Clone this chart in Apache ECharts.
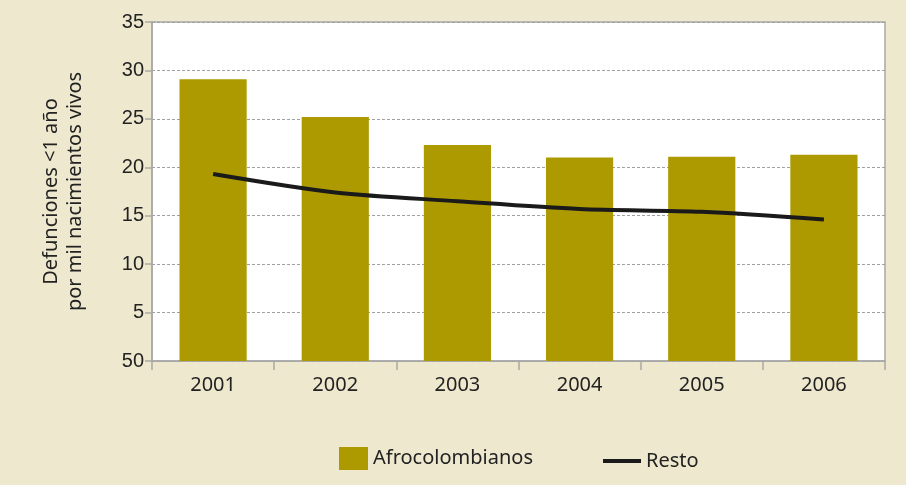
<!DOCTYPE html>
<html>
<head>
<meta charset="utf-8">
<script src="https://cdn.jsdelivr.net/npm/echarts@6/dist/echarts.min.js"></script>
<style>
  html, body { margin: 0; padding: 0; background: #EEE9CE; }
  #chart { width: 906px; height: 485px; }
</style>
</head>
<body>
<div id="chart"></div>
<script>
// años
var years = ['2001', '2002', '2003', '2004', '2005', '2006']
// tasa afrocolombianos (barras)
var afro = [29.1, 25.2, 22.3, 21.0, 21.1, 21.3]
// tasa resto (linea)
var resto = [19.3, 17.4, 16.5, 15.7, 15.4, 14.6]
// etiquetas eje y, tal como aparecen
var yTickLabels = ['50', '5', '10', '15', '20', '25', '30', '35']

var chartDom = document.getElementById('chart')
var myChart = echarts.init(chartDom)
var font = 'Noto Sans'
var option = {
  backgroundColor: '#EEE9CE',
  textStyle: { fontFamily: font },
  grid: {
    left: 152,
    right: 21,
    top: 22,
    bottom: 124,
    show: true,
    backgroundColor: '#ffffff',
    borderColor: '#a8a8a8',
    borderWidth: 1.5
  },
  legend: [
    {
      data: [{ name: 'Afrocolombianos', icon: 'rect' }],
      left: 339,
      top: 447,
      padding: 0,
      itemWidth: 29,
      itemHeight: 23,
      itemGap: 8,
      textStyle: { fontSize: 20, color: '#222', fontFamily: font, padding: [4, 0, 0, 0] }
    },
    {
      data: [{ name: 'Resto', icon: 'rect' }],
      left: 603,
      top: 451,
      padding: 0,
      itemWidth: 38,
      itemHeight: 4,
      textStyle: { fontSize: 20, color: '#222', fontFamily: font }
    }
  ],
  xAxis: {
    type: 'category',
    data: years,
    boundaryGap: true,
    axisLine: { lineStyle: { color: '#a8a8a8', width: 1.5 } },
    axisTick: { show: true, length: 9, lineStyle: { color: '#a8a8a8', width: 1.5 } },
    axisLabel: { fontSize: 20, color: '#222', margin: 14 }
  },
  yAxis: {
    type: 'value',
    min: 0,
    max: 35,
    interval: 5,
    name: 'Defunciones <1 año\npor mil nacimientos vivos',
    nameLocation: 'middle',
    nameGap: 65,
    nameRotate: 90,
    nameTextStyle: { fontSize: 20, color: '#222', lineHeight: 24 },
    axisLine: { show: true, lineStyle: { color: '#a8a8a8', width: 1.5 } },
    axisTick: { show: true, length: 7, lineStyle: { color: '#a8a8a8', width: 1.5 } },
    axisLabel: {
      fontSize: 20,
      color: '#222',
      margin: 8,
      fontFamily: 'Liberation Sans',
      formatter: function (v) { return yTickLabels[Math.round(v / 5)] }
    },
    splitLine: { lineStyle: { color: '#a0a0a0', type: [3, 2], width: 1 } }
  },
  series: [
    {
      name: 'Afrocolombianos',
      type: 'bar',
      data: afro,
      barWidth: '55%',
      itemStyle: { color: '#AD9A00' }
    },
    {
      name: 'Resto',
      type: 'line',
      data: resto,
      smooth: 0.3,
      symbol: 'none',
      lineStyle: { color: '#1a1a1a', width: 4 },
      itemStyle: { color: '#1a1a1a' }
    }
  ]
}
option && myChart.setOption(option)
</script>
</body>
</html>
